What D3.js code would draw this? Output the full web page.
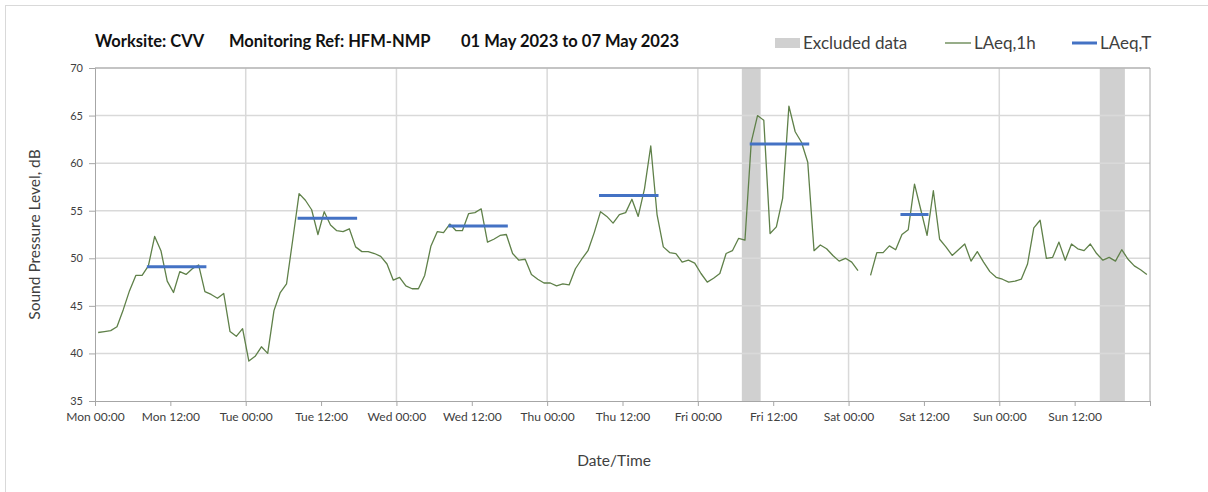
<!DOCTYPE html>
<html>
<head>
<meta charset="utf-8">
<script src="https://cdn.jsdelivr.net/npm/d3@7"></script>
<style>
    body { margin: 0; background: #fff; }
    text { font-family: Lato, "Open Sans", sans-serif; }
</style>
</head>
<body>
<svg id="chart" width="1208" height="492"></svg>
<script>
// hourly LAeq,1h values, first value is the Mon 00:00-01:00 hour
const firstHour = '2023-05-01T00:30'
const laeq1h = [
    42.2, 42.3, 42.4, 42.8, 44.6, 46.6, 48.2, 48.2, 49.2, 52.3, 50.8, 47.6, 46.4, 48.6, 48.3, 48.9, 49.3, 46.5, 46.2, 45.8, 46.3, 42.3, 41.8, 42.6,
    39.2, 39.7, 40.7, 40.0, 44.5, 46.4, 47.3, 52.0, 56.8, 56.1, 55.1, 52.5, 54.9, 53.5, 52.9, 52.8, 53.1, 51.2, 50.7, 50.7, 50.5, 50.2, 49.4, 47.7,
    48.0, 47.1, 46.8, 46.8, 48.2, 51.3, 52.8, 52.7, 53.6, 52.9, 52.9, 54.7, 54.8, 55.2, 51.7, 52.0, 52.4, 52.5, 50.5, 49.8, 49.9, 48.3, 47.8, 47.4,
    47.4, 47.1, 47.3, 47.2, 48.9, 49.9, 50.8, 52.7, 54.9, 54.4, 53.7, 54.6, 54.8, 56.2, 54.4, 57.3, 61.8, 54.6, 51.2, 50.6, 50.5, 49.6, 49.8, 49.5,
    48.4, 47.5, 47.9, 48.4, 50.5, 50.8, 52.1, 51.9, 62.2, 65.0, 64.5, 52.6, 53.3, 56.3, 66.0, 63.3, 62.2, 60.1, 50.8, 51.4, 51.0, 50.3, 49.7, 50.0,
    49.6, 48.7, null, 48.2, 50.6, 50.6, 51.3, 50.9, 52.5, 53.0, 57.8, 55.1, 52.4, 57.1, 52.0, 51.2, 50.3, 50.9, 51.5, 49.7, 50.7, 49.6, 48.6, 48.0,
    47.8, 47.5, 47.6, 47.8, 49.4, 53.2, 54.0, 50.0, 50.1, 51.7, 49.8, 51.5, 51.0, 50.8, 51.5, 50.5, 49.8, 50.1, 49.7, 50.9, 49.9, 49.2, 48.8, 48.3
]

// LAeq,T over the working periods
const periodStart = ['2023-05-01T08:00', '2023-05-02T08:00', '2023-05-03T08:00', '2023-05-04T08:00', '2023-05-05T08:00', '2023-05-06T08:00']
const periodEnd   = ['2023-05-01T18:00', '2023-05-02T18:00', '2023-05-03T18:00', '2023-05-04T18:00', '2023-05-05T18:00', '2023-05-06T13:00']
const laeqT = [49.1, 54.2, 53.4, 56.6, 62.0, 54.6]

// excluded data periods
const excludedStart = ['2023-05-05T07:00', '2023-05-07T16:00']
const excludedEnd   = ['2023-05-05T10:00', '2023-05-07T20:00']

const yTicks = [35, 40, 45, 50, 55, 60, 65, 70]
const xStart = '2023-05-01T00:00'
const xEnd = '2023-05-08T00:00'

const parse = d3.timeParse('%Y-%m-%dT%H:%M')
const svg = d3.select('#chart')

// chart frame
svg.append('rect')
    .attr('x', 5.5).attr('y', 5.5)
    .attr('width', 1210).attr('height', 500)
    .attr('fill', 'none')
    .attr('stroke', '#d9d9d9')

const x = d3.scaleTime()
    .domain([parse(xStart), parse(xEnd)])
    .range([95, 1150])
const y = d3.scaleLinear()
    .domain([35, 70])
    .range([401, 68])

const t0 = parse(firstHour)
const points = laeq1h.map((v, i) => ({t: d3.timeHour.offset(t0, i), v: v}))

// excluded bands
svg.append('g').selectAll('rect')
    .data(excludedStart)
    .enter()
    .append('rect')
    .attr('x', d => x(parse(d)))
    .attr('y', y(70))
    .attr('width', (d, i) => x(parse(excludedEnd[i])) - x(parse(d)))
    .attr('height', y(35) - y(70))
    .attr('fill', '#d0d0d0')

// gridlines
svg.append('g').selectAll('line')
    .data(yTicks.slice(1))
    .enter()
    .append('line')
    .attr('x1', x.range()[0]).attr('x2', x.range()[1])
    .attr('y1', d => y(d)).attr('y2', d => y(d))
    .attr('stroke', '#d9d9d9')
    .attr('stroke-width', 1.5)

svg.append('g').selectAll('line')
    .data(d3.timeDay.range(d3.timeDay.offset(parse(xStart), 1), parse(xEnd)))
    .enter()
    .append('line')
    .attr('x1', d => x(d)).attr('x2', d => x(d))
    .attr('y1', y(70)).attr('y2', y(35))
    .attr('stroke', '#d9d9d9')
    .attr('stroke-width', 1.5)

// plot border top/right
svg.append('path')
    .attr('d', `M${x.range()[0]},${y(70)} H${x.range()[1]} V${y(35)}`)
    .attr('fill', 'none')
    .attr('stroke', '#a6a6a6')
    .attr('stroke-width', 1)

// axes
const fmt = d3.timeFormat('%a %H:%M')
const xTickVals = d3.timeHour.every(12).range(parse(xStart), d3.timeHour.offset(parse(xEnd), 1))
const xAxis = d3.axisBottom(x)
    .tickValues(xTickVals)
    .tickSize(5)
    .tickPadding(6)
    .tickFormat(d => +d === +parse(xEnd) ? '' : fmt(d))
const gx = svg.append('g')
    .attr('transform', `translate(0 ${y(35)})`)
    .call(xAxis)
gx.select('.domain').attr('stroke', '#a6a6a6')
gx.selectAll('.tick line').attr('stroke', '#a6a6a6')
gx.selectAll('.tick text')
    .attr('font-size', 12)
    .attr('fill', '#404040')
    .attr('font-family', 'Lato, sans-serif')

const yAxis = d3.axisLeft(y)
    .tickValues(yTicks)
    .tickSize(6)
    .tickPadding(6)
const gy = svg.append('g')
    .attr('transform', `translate(${x.range()[0]} 0)`)
    .call(yAxis)
gy.select('.domain').attr('stroke', '#a6a6a6')
gy.selectAll('.tick line').attr('stroke', '#a6a6a6')
gy.selectAll('.tick text')
    .attr('font-size', 11)
    .attr('fill', '#404040')
    .attr('font-family', 'Lato, sans-serif')

// LAeq,1h line
const line = d3.line()
    .defined(d => d.v != null)
    .x(d => x(d.t))
    .y(d => y(d.v))
svg.append('path')
    .datum(points)
    .attr('d', line)
    .attr('fill', 'none')
    .attr('stroke', '#5f8049')
    .attr('stroke-width', 1.3)
    .attr('stroke-linejoin', 'round')

// LAeq,T segments
svg.append('g').selectAll('line')
    .data(laeqT)
    .enter()
    .append('line')
    .attr('x1', (d, i) => x(d3.timeMinute.offset(parse(periodStart[i]), 30)))
    .attr('x2', (d, i) => x(d3.timeMinute.offset(parse(periodEnd[i]), -30)))
    .attr('y1', d => y(d)).attr('y2', d => y(d))
    .attr('stroke', '#4472c4')
    .attr('stroke-width', 3)
    .attr('stroke-linecap', 'square')

// title
const title = svg.append('g')
    .attr('font-size', 16.5)
    .attr('font-weight', 'bold')
    .attr('fill', '#111')
title.append('text').attr('x', 95).attr('y', 47).text('Worksite: CVV')
title.append('text').attr('x', 229).attr('y', 47).text('Monitoring Ref: HFM-NMP')
title.append('text').attr('x', 461).attr('y', 47).text('01 May 2023 to 07 May 2023')

// legend
const legend = svg.append('g').attr('font-size', 17).attr('fill', '#404040')
legend.append('rect')
    .attr('x', 775).attr('y', 38).attr('width', 25).attr('height', 10)
    .attr('fill', '#d0d0d0')
legend.append('text').attr('x', 803).attr('y', 49).text('Excluded data')
legend.append('line')
    .attr('x1', 945).attr('x2', 971).attr('y1', 43).attr('y2', 43)
    .attr('stroke', '#5f8049').attr('stroke-width', 1.3)
legend.append('text').attr('x', 974).attr('y', 49).text('LAeq,1h')
legend.append('line')
    .attr('x1', 1072).attr('x2', 1097).attr('y1', 43).attr('y2', 43)
    .attr('stroke', '#4472c4').attr('stroke-width', 3)
legend.append('text').attr('x', 1100).attr('y', 49).text('LAeq,T')

// axis titles
svg.append('text')
    .attr('transform', `translate(40 ${(y(70) + y(35)) / 2}) rotate(-90)`)
    .attr('text-anchor', 'middle')
    .attr('font-size', 15.5)
    .attr('fill', '#404040')
    .text('Sound Pressure Level, dB')
svg.append('text')
    .attr('x', 614).attr('y', 466)
    .attr('text-anchor', 'middle')
    .attr('font-size', 15.5)
    .attr('fill', '#404040')
    .text('Date/Time')
</script>
</body>
</html>
